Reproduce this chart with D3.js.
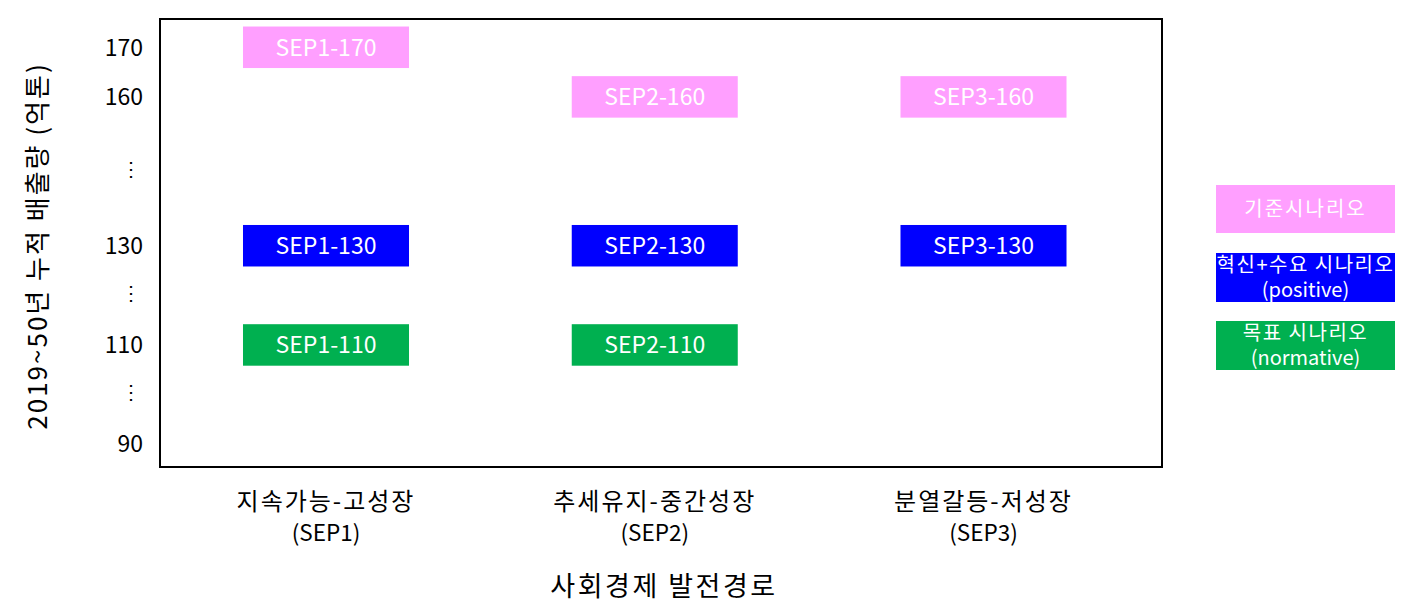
<!DOCTYPE html>
<html>
<head>
<meta charset="utf-8">
<script src="https://cdn.jsdelivr.net/npm/d3@7"></script>
<style>
  body { margin: 0; background: #fff; }
  text { font-family: "Noto Sans CJK KR", "Noto Sans", sans-serif; }
</style>
</head>
<body>
<svg id="chart"></svg>
<script>
// 사회경제 발전경로 (x축 범주)
const categories = ['지속가능-고성장', '추세유지-중간성장', '분열갈등-저성장'];
const categoryCodes = ['SEP1', 'SEP2', 'SEP3'];

// 시나리오별 누적 배출량 (억톤), null = 없음
const baseValues = [170, 160, 160];
const positiveValues = [130, 130, 130];
const normativeValues = [110, 110, null];

// 범례
const scenarioNames = ['기준시나리오', '혁신+수요 시나리오', '목표 시나리오'];
const scenarioSubs = ['', '(positive)', '(normative)'];
const scenarioColors = ['#ff9fff', '#0000ff', '#00b050'];

// y축 눈금 (생략 표시 포함)
const tickValues = [170, 160, 145.5, 130, 120.5, 110, 100.5, 90];
const tickLabels = ['170', '160', '⋮', '130', '⋮', '110', '⋮', '90'];

const width = 1418, height = 615;
const margin = { top: 19, right: 256, bottom: 148, left: 160 };

const svg = d3.select('#chart')
  .attr('width', width)
  .attr('height', height);

const x = d3.scalePoint()
  .domain(categories)
  .range([326, 983.5]);

const y = d3.scaleLinear()
  .domain([85.4, 175.7])
  .range([height - margin.bottom, margin.top]);

const boxW = x.step() * 0.505;
const boxH = 41.5;

// 시리즈 모으기
const series = [baseValues, positiveValues, normativeValues];
const boxes = [];
series.forEach((vals, si) => {
  vals.forEach((v, ci) => {
    if (v == null) return;
    boxes.push({ cat: categories[ci], code: categoryCodes[ci], value: v, si });
  });
});

svg.selectAll('.box')
  .data(boxes)
  .enter()
  .append('rect')
  .attr('x', d => x(d.cat) - boxW / 2)
  .attr('y', d => y(d.value) - boxH / 2)
  .attr('width', boxW)
  .attr('height', boxH)
  .attr('fill', d => scenarioColors[d.si]);

svg.selectAll('.box-label')
  .data(boxes)
  .enter()
  .append('text')
  .attr('x', d => x(d.cat))
  .attr('y', d => y(d.value))
  .attr('dy', '0.36em')
  .attr('text-anchor', 'middle')
  .attr('font-size', '23px')
  .attr('fill', '#fff')
  .text(d => `${d.code}-${d.value}`);

// 외곽 프레임
svg.append('rect')
  .attr('x', margin.left)
  .attr('y', margin.top)
  .attr('width', 1162 - margin.left)
  .attr('height', height - margin.bottom - margin.top)
  .attr('fill', 'none')
  .attr('stroke', '#000')
  .attr('stroke-width', 2);

// y축 눈금
const isDots = i => tickLabels[i] === '⋮';
svg.selectAll('.ytick')
  .data(tickValues)
  .enter()
  .append('text')
  .attr('x', (d, i) => isDots(i) ? 131 : 143)
  .attr('y', d => y(d))
  .attr('dy', '0.36em')
  .attr('text-anchor', (d, i) => isDots(i) ? 'middle' : 'end')
  .attr('font-size', (d, i) => isDots(i) ? '20px' : '23px')
  .attr('fill', '#000')
  .text((d, i) => tickLabels[i]);

// x축 범주 라벨
const xl = svg.selectAll('.xlabel')
  .data(categories)
  .enter()
  .append('text')
  .attr('text-anchor', 'middle')
  .attr('fill', '#000');
xl.append('tspan')
  .attr('x', d => x(d))
  .attr('y', 510)
  .attr('font-size', '24px')
  .attr('letter-spacing', '2px')
  .text(d => d);
xl.append('tspan')
  .attr('x', d => x(d))
  .attr('y', 541)
  .attr('font-size', '22.5px')
  .text((d, i) => `(${categoryCodes[i]})`);

// 축 제목
svg.append('text')
  .attr('x', 664)
  .attr('y', 596)
  .attr('text-anchor', 'middle')
  .attr('font-size', '27px')
  .attr('letter-spacing', '2.5px')
  .attr('fill', '#000')
  .text('사회경제 발전경로');

svg.append('text')
  .attr('transform', 'translate(47,246) rotate(-90)')
  .attr('text-anchor', 'middle')
  .attr('font-size', '26px')
  .attr('letter-spacing', '2px')
  .attr('fill', '#000')
  .text('2019~50년 누적 배출량 (억톤)');

// 범례
const legendX = 1216, legendW = 179;
const legendTops = [185, 253, 321];
const legendHs = [48, 49, 49];
const lg = svg.selectAll('.legend')
  .data(scenarioNames)
  .enter()
  .append('g')
  .attr('transform', (d, i) => `translate(${legendX},${legendTops[i]})`);
lg.append('rect')
  .attr('width', legendW)
  .attr('height', (d, i) => legendHs[i])
  .attr('fill', (d, i) => scenarioColors[i]);
lg.each(function(d, i) {
  const g = d3.select(this);
  const t = g.append('text')
    .attr('text-anchor', 'middle')
    .attr('font-size', '20px')
    .attr('fill', '#fff');
  if (scenarioSubs[i]) {
    t.append('tspan').attr('x', legendW / 2).attr('y', 19).attr('letter-spacing', '1.5px').text(d);
    t.append('tspan').attr('x', legendW / 2).attr('y', 44).text(scenarioSubs[i]);
  } else {
    t.append('tspan').attr('x', legendW / 2).attr('y', legendHs[i] / 2).attr('dy', '0.36em')
      .attr('letter-spacing', '2px').text(d);
  }
});
</script>
</body>
</html>
